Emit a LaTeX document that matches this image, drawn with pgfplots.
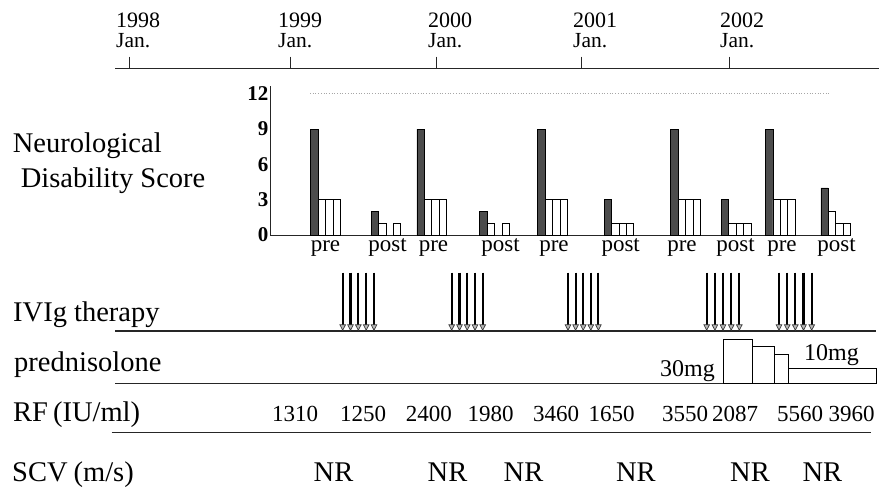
\documentclass[border=0pt]{standalone}
\usepackage{fontspec}
\setmainfont{Liberation Serif}
\usepackage{pgfplots}
\pgfplotsset{compat=1.18}
\usetikzlibrary{arrows.meta}
\newcommand{\fs}[1]{\fontsize{#1}{#1}\selectfont}
\definecolor{darkbar}{gray}{0.3}
\definecolor{linec}{gray}{0.15}
\begin{document}
\begin{tikzpicture}
% ---------- canvas axis (pixel coordinates, y downward) ----------
\begin{axis}[at={(0pt,0pt)}, anchor=south west, scale only axis,
  width=879pt, height=494pt, xmin=0, xmax=879, ymin=0, ymax=494,
  y dir=reverse, hide axis, clip=false]
% timeline
\draw[line width=1.3pt, linec] (axis cs:115,68.3) -- (axis cs:879,68.3);
\foreach \t in {129.3,290,436,581.7,729}{
  \edef\tmp{\noexpand\draw[line width=0.7pt, linec] (axis cs:\t,56.7) -- (axis cs:\t,68.3);}\tmp}
\foreach \xx/\yr in {116/1998,278/1999,428/2000,573/2001,720/2002}{
  \edef\tmp{\noexpand\node[anchor=base west, inner sep=0pt, font=\noexpand\fs{22}] at (axis cs:\xx,27.8) {\yr};
  \noexpand\node[anchor=base west, inner sep=0pt, font=\noexpand\fs{21.5}] at (axis cs:\xx,48) {Jan.};}\tmp}
% row labels
\node[anchor=base west, inner sep=0pt, font=\fs{28.5}] at (axis cs:12.7,152.3) {Neurological};
\node[anchor=base west, inner sep=0pt, font=\fs{28.5}] at (axis cs:20.7,187.3) {Disability Score};
\node[anchor=base west, inner sep=0pt, font=\fs{28.5}] at (axis cs:13,321.7) {IVIg therapy};
\node[anchor=base west, inner sep=0pt, font=\fs{28.5}] at (axis cs:14,371.7) {prednisolone};
\node[anchor=base west, inner sep=0pt, font=\fs{28.5}] at (axis cs:13,421.7) {RF\hspace{5pt}(IU/ml)};
\node[anchor=base west, inner sep=0pt, font=\fs{28.5}] at (axis cs:12,481.7) {SCV\hspace{6pt}(m/s)\hspace{3pt}};
% pre / post labels
\foreach \xx/\lab in {325.5/pre,387.5/post,433.5/pre,500.5/post,554/pre,620.7/post,682/pre,735.5/post,782/pre,836.5/post}{
  \edef\tmp{\noexpand\node[anchor=base, inner sep=0pt, font=\noexpand\fs{23}] at (axis cs:\xx,252) {\lab};}\tmp}
% row separator lines
\draw[line width=1.1pt, linec] (axis cs:115,331) -- (axis cs:876,331);
\draw[line width=1.1pt, linec] (axis cs:115,383.3) -- (axis cs:876,383.3);
\draw[line width=1.1pt, linec] (axis cs:111.7,432.7) -- (axis cs:870.7,432.7);
% IVIg infusions
\addplot[quiver={u=0,v=58.3}, line width=2.1pt, black,
  -{Triangle[width=6.5pt, length=6.5pt, line width=0.7pt, color=gray!45!black, fill=gray!55]}]
  coordinates {
  (342.7,272.7)(350.5,272.7)(358.3,272.7)(366.2,272.7)(374,272.7)
  (451.7,272.7)(459.5,272.7)(467.2,272.7)(475,272.7)(482.7,272.7)
  (568,272.7)(575.6,272.7)(583.2,272.7)(590.8,272.7)(598.4,272.7)
  (706.7,272.7)(714.9,272.7)(723,272.7)(731.2,272.7)(739.3,272.7)
  (779,272.7)(787.2,272.7)(795.3,272.7)(803.5,272.7)(811.7,272.7)};
% dose labels
\node[anchor=base west, inner sep=0pt, font=\fs{24}] at (axis cs:660,376.7) {30mg};
\node[anchor=base west, inner sep=0pt, font=\fs{24}] at (axis cs:804,361) {10mg};
% RF values
\foreach \xx/\v in {295/1310,363/1250,428.8/2400,490.5/1980,556/3460,611.5/1650,685/3550,735/2087,800/5560,851.7/3960}{
  \edef\tmp{\noexpand\node[anchor=base, inner sep=0pt, font=\noexpand\fs{23}] at (axis cs:\xx,421.7) {\v};}\tmp}
% SCV
\foreach \xx in {333.5,447.5,523.5,635.8,750,822.3}{
  \edef\tmp{\noexpand\node[anchor=base, inner sep=0pt, font=\noexpand\fs{28.5}] at (axis cs:\xx,481.7) {NR};}\tmp}
\end{axis}
% ---------- prednisolone dose (mg) ----------
\begin{axis}[at={(0pt,110.7pt)}, anchor=south west, scale only axis,
  width=879pt, height=44pt, xmin=0, xmax=879, ymin=0, ymax=30,
  hide axis, clip=false]
\addplot[ybar interval, fill=white, draw=black, line width=0.8pt]
  coordinates {(723.3,30)(752.3,25)(774,20)(788.3,10)(876,10)};
\end{axis}
% ---------- Neurological disability score ----------
\begin{axis}[at={(270pt,259pt)}, anchor=south west, scale only axis,
  width=581pt, height=149pt, xmin=270, xmax=851, ymin=0, ymax=12.66,
  axis x line=bottom, axis y line=left,
  axis line style={-, line width=0.9pt, linec},
  xtick=\empty, ytick={0,3,6,9,12}, major tick length=0pt,
  /pgf/number format/assume math mode=true,
  yticklabel style={font=\fs{21}\bfseries, inner sep=1.5pt},
  ybar, bar width=7.4pt, clip=false]
\draw[dotted, line width=0.7pt, gray!70] (axis cs:310,12) -- (axis cs:830,12);
\addplot[bar shift=0pt, fill=darkbar, draw=black, line width=0.6pt] coordinates {
  (314.4,9)(374.7,2)(420.5,9)(483.2,2)(541.3,9)(607.7,3)(674.3,9)(725,3)(769.2,9)(824.5,4)};
\addplot[bar shift=0pt, fill=white, draw=black, line width=0.6pt] coordinates {
  (321.8,3)(329.2,3)(336.6,3)
  (382.1,1)(396.9,1)
  (427.9,3)(435.3,3)(442.7,3)
  (490.9,1)(505.7,1)
  (548.7,3)(556.1,3)(563.5,3)
  (615.1,1)(622.5,1)(629.9,1)
  (681.7,3)(689.1,3)(696.5,3)
  (732.4,1)(739.8,1)(747.2,1)
  (776.6,3)(784.0,3)(791.4,3)
  (831.9,2)(839.3,1)(846.7,1)};
\end{axis}
\pgfresetboundingbox
\useasboundingbox (0pt,0pt) rectangle (879pt,494pt);
\end{tikzpicture}
\end{document}
